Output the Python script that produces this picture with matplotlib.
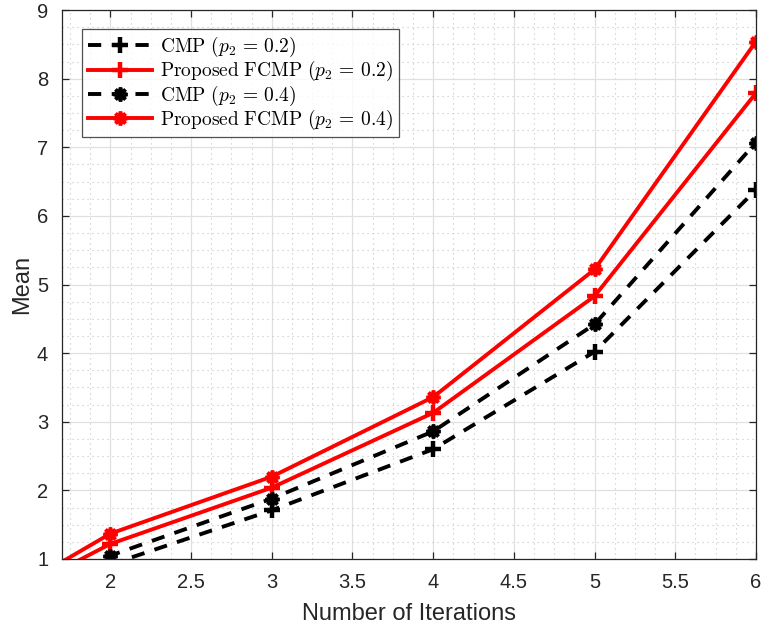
import matplotlib
matplotlib.use('Agg')
import matplotlib.pyplot as plt
from matplotlib.lines import Line2D
import numpy as np

plt.rcParams['font.family'] = ['Liberation Sans', 'DejaVu Sans']
plt.rcParams['mathtext.fontset'] = 'cm'

iterations = [1, 2, 3, 4, 5, 6]
cmp_02 = [0.0, 0.92, 1.71, 2.60, 4.02, 6.38]
fcmp_02 = [0.0, 1.22, 2.04, 3.13, 4.83, 7.79]
cmp_04 = [0.0, 1.05, 1.88, 2.86, 4.42, 7.07]
fcmp_04 = [0.0, 1.37, 2.20, 3.36, 5.22, 8.54]

labels = [r'$\mathrm{CMP}\ (p_2\,=\,0.2)$',
          r'$\mathrm{Proposed\ FCMP}\ (p_2\,=\,0.2)$',
          r'$\mathrm{CMP}\ (p_2\,=\,0.4)$',
          r'$\mathrm{Proposed\ FCMP}\ (p_2\,=\,0.4)$']

fig = plt.figure(figsize=(7.62, 6.30), dpi=100)
ax = fig.add_axes([0.0814, 0.1127, 0.9106, 0.8713])

lw = 2.8
star = (8, 2, 0)
dash = (3.4, 2.7)
pm = dict(ls='none', marker='+', ms=11, mew=3.2)
sm = dict(ls='none', marker=star, ms=10, mew=2.6)

ax.plot(iterations, cmp_02, color='k', lw=lw, dashes=dash)
ax.plot(iterations, fcmp_02, color='r', lw=lw)
ax.plot(iterations, cmp_04, color='k', lw=lw, dashes=dash)
ax.plot(iterations, fcmp_04, color='r', lw=lw)

# markers drawn separately so they keep solid edges
ax.plot(iterations, cmp_02, color='k', **pm)
ax.plot(iterations, fcmp_02, color='r', **pm)
ax.plot(iterations, cmp_04, color='k', **sm)
ax.plot(iterations, fcmp_04, color='r', **sm)

ax.set_xlim(1.7, 6)
ax.set_ylim(1, 9)
ax.set_xticks(np.arange(2, 6.01, 0.5))
ax.set_xticklabels(['2', '2.5', '3', '3.5', '4', '4.5', '5', '5.5', '6'])
ax.set_yticks(np.arange(1, 10, 1))
ax.set_xticks(np.arange(1.75, 6.01, 0.125), minor=True)
ax.set_yticks(np.arange(1, 9.01, 0.25), minor=True)

ax.grid(which='major', color='#e0e0e0', lw=0.9, ls='-')
ax.grid(which='minor', color='#c4c4c4', lw=0.8, ls=(0, (1, 3.5)))
ax.set_axisbelow(True)

ax.tick_params(which='both', direction='in', top=True, right=True,
               colors='#262626', labelsize=14.5)
ax.tick_params(which='major', length=5, width=0.9, pad=10)
ax.tick_params(which='minor', length=0)
for s in ax.spines.values():
    s.set_color('#262626')
    s.set_linewidth(0.9)

ax.set_xlabel('Number of Iterations', fontsize=17, color='#262626', labelpad=8)
ax.set_ylabel('Mean', fontsize=17, color='#262626', labelpad=3)

handles = [
    Line2D([], [], color='k', lw=lw, dashes=dash, marker='+', ms=11, mew=3.2),
    Line2D([], [], color='r', lw=lw, marker='+', ms=11, mew=3.2),
    Line2D([], [], color='k', lw=lw, dashes=dash, marker=star, ms=10, mew=2.6),
    Line2D([], [], color='r', lw=lw, marker=star, ms=10, mew=2.6),
]
leg = ax.legend(handles, labels, loc='upper left', bbox_to_anchor=(0.029, 0.965),
                fontsize=14, frameon=True, fancybox=False, handlelength=3.3,
                handletextpad=0.4, labelspacing=0.0, borderpad=0.3,
                borderaxespad=0)
leg.get_frame().set_edgecolor('#262626')
leg.get_frame().set_linewidth(0.9)

fig.savefig('out.png', dpi=100)
